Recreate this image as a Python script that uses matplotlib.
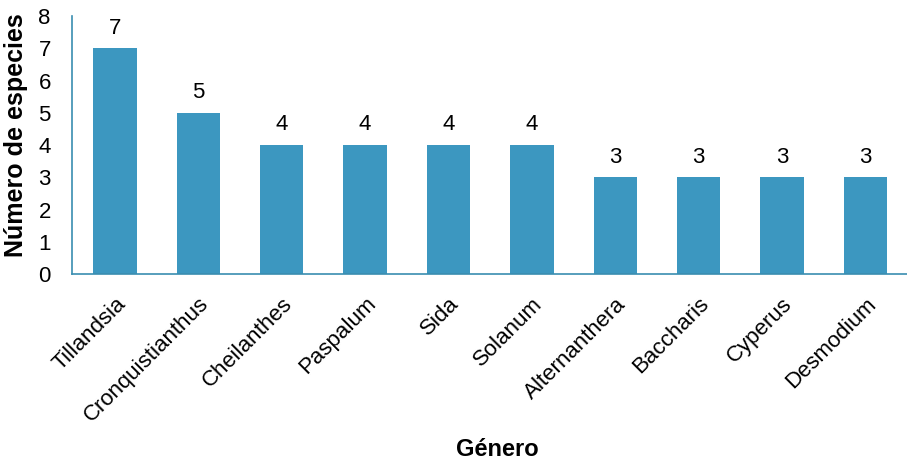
import matplotlib.pyplot as plt
import numpy as np

plt.rcParams['font.family'] = ['Liberation Sans', 'DejaVu Sans']

generos = ['Tillandsia', 'Cronquistianthus', 'Cheilanthes', 'Paspalum', 'Sida',
           'Solanum', 'Alternanthera', 'Baccharis', 'Cyperus', 'Desmodium']
especies = [7, 5, 4, 4, 4, 4, 3, 3, 3, 3]

color_barra = '#3c97c0'
color_eje = '#3a8db0'

fig = plt.figure(figsize=(9.07, 4.59), dpi=100)
ax = fig.add_axes([0.079, 0.403, 0.921, 0.562])

x = np.arange(len(generos))
barras = ax.bar(x, especies, width=0.52, color=color_barra)

# etiquetas de valor sobre cada barra
for xi, v in zip(x, especies):
    ax.text(xi, v + 0.3, str(v), ha='center', va='bottom', fontsize=16)

ax.set_xlim(-0.52, 9.5)
ax.set_ylim(0, 8)
ax.set_yticks(range(0, 9))
ax.set_xticks(x)
ax.set_xticklabels(generos, rotation=45, ha='right', va='top',
                   rotation_mode='anchor', fontsize=16)
ax.tick_params(axis='y', length=0, pad=15, labelsize=16)
ax.tick_params(axis='x', length=0, pad=14)

for lado in ['top', 'right']:
    ax.spines[lado].set_visible(False)
for lado in ['left', 'bottom']:
    ax.spines[lado].set_color(color_eje)
    ax.spines[lado].set_linewidth(1.2)

ax.set_ylabel('Número de especies', fontsize=18, fontweight='bold')
ax.yaxis.set_label_coords(-0.052, 0.54)
ax.set_xlabel('Género', fontsize=17, fontweight='bold')
ax.xaxis.set_label_coords(0.509, -0.635)

fig.savefig('out.png', dpi=100)
